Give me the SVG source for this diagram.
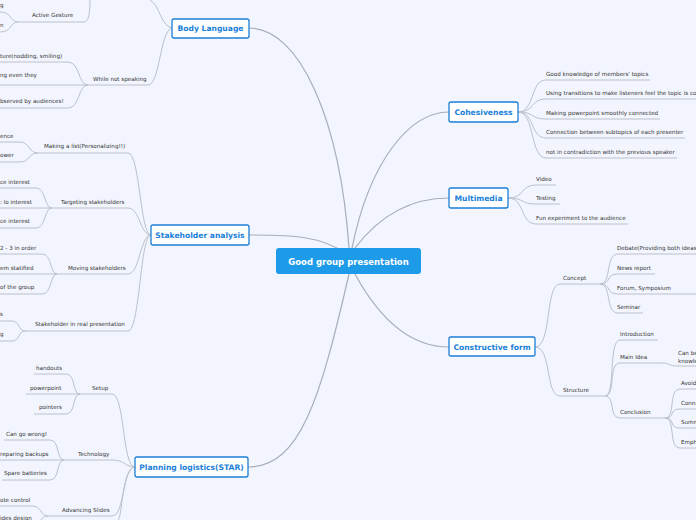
<svg xmlns="http://www.w3.org/2000/svg" width="696" height="520" viewBox="0 0 696 520">
<style>
.bg{fill:#f2f5fd}
.c{fill:none;stroke:#bcc0cb;stroke-width:1}
.m{fill:none;stroke:#a9adb8;stroke-width:1.2}
.t{font-family:"DejaVu Sans",sans-serif;font-size:5.6px;fill:#333}
.n rect{fill:#fff;stroke:#1a7fd8;stroke-width:1.3}
.n text{font-family:"DejaVu Sans",sans-serif;font-size:7.6px;font-weight:bold;fill:#1a7fd8;text-anchor:middle}
</style>
<rect class="bg" width="696" height="520"/>
<g id="connectors">
<path class="m" d="M349 248 C340 120 300 28 249 28"/>
<path class="m" d="M349 255 C320 235 290 235 249 235"/>
<path class="m" d="M349 274 C320 400 300 467 248 467"/>
<path class="m" d="M352 248 C370 160 410 112 449 112"/>
<path class="m" d="M355 248 C380 215 410 198 449 198"/>
<path class="m" d="M355 274 C380 320 410 347 449 347"/>
<path class="c" d="M172 28 C160 25 160 5 150 0"/>
<path class="c" d="M18 22 H85 C90 20 90 5 90 0"/>
<path class="c" d="M18 22 C10 22 12 12 0 12 M18 22 C10 22 12 32 0 32"/>
<path class="c" d="M172 28 C160 30 160 85 148 85 H88"/>
<path class="c" d="M88 85 C78 85 80 62 68 62 H0 M88 85 H0 M88 85 C78 85 80 108 68 108 H0"/>
<path class="c" d="M151 235 C140 235 140 153 128 153 H38"/>
<path class="c" d="M38 153 C28 153 30 142 20 142 H0 M38 153 C28 153 30 162 20 162 H0"/>
<path class="c" d="M151 235 C140 235 140 208 128 208 H52"/>
<path class="c" d="M52 208 C44 208 46 188 36 188 H0 M52 208 H0 M52 208 C44 208 46 228 36 228 H0"/>
<path class="c" d="M151 235 C140 235 140 274 128 274 H57"/>
<path class="c" d="M57 274 C50 274 52 254 42 254 H0 M57 274 H0 M57 274 C50 274 52 294 42 294 H0"/>
<path class="c" d="M151 235 C140 235 140 331 128 331 H25"/>
<path class="c" d="M25 331 C18 331 20 321 12 321 H0 M25 331 C18 331 20 341 12 341 H0"/>
<path class="c" d="M135 467 C122 467 125 394 112 394 H80"/>
<path class="c" d="M80 394 C72 394 76 374 66 374 H34 M80 394 H26 M80 394 C72 394 76 414 66 414 H34"/>
<path class="c" d="M135 467 C125 467 125 460 112 460 H64"/>
<path class="c" d="M64 460 C56 460 60 440 50 440 H4 M64 460 H0 M64 460 C56 460 60 480 50 480 H2"/>
<path class="c" d="M135 467 C122 467 125 516 112 516 H48"/>
<path class="c" d="M48 516 C40 516 42 506 32 506 H0 M48 516 C40 516 42 524 32 524 H0"/>
<path class="c" d="M135 467 C122 467 122 520 118 520"/>
<path class="c" d="M518 112 C535 112 530 80 546 80 H650"/>
<path class="c" d="M518 112 C535 112 530 99 546 99 H696"/>
<path class="c" d="M518 112 C535 112 530 119 546 119 H660"/>
<path class="c" d="M518 112 C535 112 530 138 546 138 H685"/>
<path class="c" d="M518 112 C535 112 530 158 546 158 H677"/>
<path class="c" d="M508 198 C525 198 520 185 536 185 H556"/>
<path class="c" d="M508 198 C525 198 520 204 536 204 H560"/>
<path class="c" d="M508 198 C525 198 520 224 536 224 H628"/>
<path class="c" d="M535 347 C552 347 545 284 560 284 H600"/>
<path class="c" d="M535 347 C552 347 545 396 560 396 H605"/>
<path class="c" d="M600 284 C612 284 605 254 618 254 H696"/>
<path class="c" d="M600 284 C612 284 605 274 618 274 H655"/>
<path class="c" d="M600 284 C612 284 605 294 618 294 H696"/>
<path class="c" d="M600 284 C612 284 605 313 618 313 H643"/>
<path class="c" d="M605 396 C616 396 608 340 620 340 H658"/>
<path class="c" d="M605 396 C616 396 608 363 620 363 H662 C670 363 668 366 678 366 H696"/>
<path class="c" d="M605 396 C616 396 608 418 620 418 H665"/>
<path class="c" d="M665 418 C676 418 668 389 680 389 H696 M665 418 C676 418 668 409 680 409 H696 M665 418 C676 418 668 428 680 428 H696 M665 418 C676 418 668 448 680 448 H696"/>
</g>
<g id="center"><rect x="276" y="248" width="145" height="26" rx="3" fill="#1e9be8"/><text x="348.5" y="264.5" font-family="DejaVu Sans,sans-serif" font-size="8.5" font-weight="bold" fill="#fff" text-anchor="middle">Good group presentation</text></g>
<g id="body" class="n"><rect x="172" y="19" width="77" height="19" rx="2"/><text x="210.5" y="31">Body Language</text></g>
<g id="stake" class="n"><rect x="151" y="225" width="98" height="20" rx="2"/><text x="200" y="238">Stakeholder analysis</text></g>
<g id="plan" class="n"><rect x="135" y="457" width="113" height="20" rx="2"/><text x="191.5" y="470">Planning logistics(STAR)</text></g>
<g id="cohes" class="n"><rect x="449" y="102" width="69" height="20" rx="2"/><text x="483.5" y="115">Cohesiveness</text></g>
<g id="multi" class="n"><rect x="449" y="188" width="59" height="20" rx="2"/><text x="478.5" y="201">Multimedia</text></g>
<g id="constr" class="n"><rect x="449" y="337" width="86" height="19" rx="2"/><text x="492" y="349.5">Constructive form</text></g>
<g id="leaves" class="t">
<text x="0" y="7">g</text><text x="32" y="17">Active Gesture</text><text x="0" y="27">n</text>
<text x="0" y="58">ture(nodding, smiling)</text><text x="93" y="81">While not speaking</text><text x="0" y="77">ng even they</text><text x="0" y="103">bserved by audiences!</text>
<text x="0" y="138">ence</text><text x="44" y="148">Making a list(Personalizing!!)</text><text x="0" y="157">ower</text>
<text x="0" y="184">ce interest</text><text x="61" y="204">Targeting stakeholders</text><text x="0" y="204">: lo interest</text><text x="0" y="223">ce interest</text>
<text x="0" y="250">2 - 3 in order</text><text x="68" y="270">Moving stakeholders</text><text x="0" y="270">em statified</text><text x="0" y="289">of the group</text>
<text x="0" y="316">s</text><text x="35" y="326">Stakeholder in real presentation</text><text x="0" y="336">g</text>
<text x="36" y="370">handouts</text><text x="92" y="390">Setup</text><text x="30" y="390">powerpoint</text><text x="39" y="409">pointers</text>
<text x="6" y="436">Can go wrong!</text><text x="78" y="456">Technology</text><text x="0" y="456">reparing backups</text><text x="4" y="475">Spare batteries</text>
<text x="0" y="502">ote control</text><text x="62" y="512">Advancing Slides</text><text x="0" y="520">ides design</text>
<text x="546" y="76">Good knowledge of members' topics</text>
<text x="546" y="95">Using transitions to make listeners feel the topic is connected</text>
<text x="546" y="115">Making powerpoint smoothly connected</text>
<text x="546" y="134">Connection between subtopics of each presenter</text>
<text x="546" y="154">not in contradiction with the previous speaker</text>
<text x="536" y="181">Video</text><text x="536" y="200">Testing</text><text x="536" y="220">Fun experiment to the audience</text>
<text x="563" y="280">Concept</text><text x="563" y="392">Structure</text>
<text x="617" y="250">Debate(Providing both ideas)</text><text x="617" y="270">News report</text><text x="617" y="290">Forum, Symposium</text><text x="617" y="309">Seminar</text>
<text x="620" y="336">Introduction</text><text x="620" y="359">Main Idea</text><text x="620" y="414">Conclusion</text>
<text x="678" y="355">Can be</text><text x="678" y="363">knowle</text>
<text x="681" y="385">Avoid</text><text x="681" y="405">Conne</text><text x="681" y="424">Summ</text><text x="681" y="444">Emph</text>
</g>
</svg>
